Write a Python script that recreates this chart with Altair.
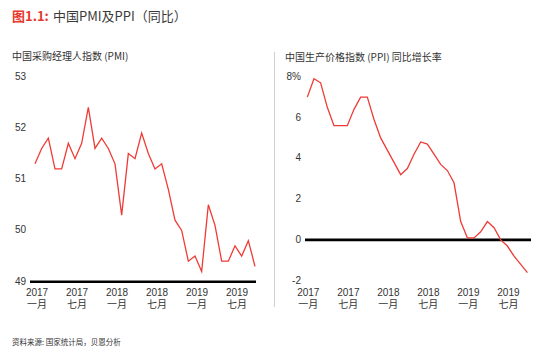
import altair as alt
import pandas as pd

# ---- data ----
months = list(range(34))  # Jan 2017 .. Oct 2019
pmi = [51.3, 51.6, 51.8, 51.2, 51.2, 51.7, 51.4, 51.7, 52.4, 51.6, 51.8, 51.6,
       51.3, 50.3, 51.5, 51.4, 51.9, 51.5, 51.2, 51.3, 50.8, 50.2, 50.0, 49.4,
       49.5, 49.2, 50.5, 50.1, 49.4, 49.4, 49.7, 49.5, 49.8, 49.3]
ppi = [7.0, 7.9, 7.7, 6.5, 5.6, 5.6, 5.6, 6.4, 7.0, 7.0, 5.9, 5.0,
       4.4, 3.8, 3.2, 3.5, 4.2, 4.8, 4.7, 4.2, 3.7, 3.4, 2.8, 0.9,
       0.1, 0.1, 0.4, 0.9, 0.6, 0.0, -0.3, -0.8, -1.2, -1.6]
tick_pos = [0, 6, 12, 18, 24, 30]
tick_year = ["2017", "2017", "2018", "2018", "2019", "2019"]
tick_month = ["一月", "七月", "一月", "七月", "一月", "七月"]
pmi_ticks = [49, 50, 51, 52, 53]
pmi_tick_labels = ["49", "50", "51", "52", "53"]
ppi_ticks = [-2, 0, 2, 4, 6, 8]
ppi_tick_labels = ["-2", "0", "2", "4", "6", "8%"]

FONT = "Liberation Sans, Noto Sans CJK SC, sans-serif"
CJK = "Noto Sans CJK SC, Liberation Sans, sans-serif"
TXT = "#333333"
RED = "#EF3B36"

df = pd.DataFrame({"m": months, "pmi": pmi, "ppi": ppi})
ticks_x = pd.DataFrame({"pos": tick_pos,
                        "lab": [y + "\n" + m for y, m in zip(tick_year, tick_month)]})
ticks_l = pd.DataFrame({"v": pmi_ticks, "lab": pmi_tick_labels})
ticks_r = pd.DataFrame({"v": ppi_ticks, "lab": ppi_tick_labels})

xL = alt.Scale(domain=[0, 33], range=[35, 255], nice=False, zero=False)
yL = alt.Scale(domain=[49, 53], range=[281.7, 76.7], nice=False, zero=False)
xR = alt.Scale(domain=[0, 33], range=[307.3, 527.4], nice=False, zero=False)
yR = alt.Scale(domain=[-2, 8], range=[280.7, 76.7], nice=False, zero=False)

one = pd.DataFrame({"k": [0]})

# ---- left panel ----
left_line = alt.Chart(df).mark_line(color=RED, strokeWidth=1.3).encode(
    x=alt.X("m:Q", scale=xL, axis=None),
    y=alt.Y("pmi:Q", scale=yL, axis=None),
)
left_base = alt.Chart(pd.DataFrame({"v": [49]})).mark_rule(color="black", strokeWidth=2.6).encode(
    y=alt.Y("v:Q", scale=yL, axis=None),
    x=alt.value(30), x2=alt.value(256),
)
left_ylab = alt.Chart(ticks_l).mark_text(align="right", baseline="middle", font=FONT,
                                         fontSize=10, color=TXT).encode(
    y=alt.Y("v:Q", scale=yL, axis=None),
    x=alt.value(26),
    text="lab:N",
)
left_xlab = alt.Chart(ticks_x).mark_text(align="center", baseline="alphabetic", font=FONT,
                                         fontSize=10, color=TXT, dx=2,
                                         lineBreak="\n", lineHeight=11.4).encode(
    x=alt.X("pos:Q", scale=xL, axis=None),
    y=alt.value(296.4),
    text="lab:N",
)

# ---- right panel ----
right_line = alt.Chart(df).mark_line(color=RED, strokeWidth=1.3).encode(
    x=alt.X("m:Q", scale=xR, axis=None),
    y=alt.Y("ppi:Q", scale=yR, axis=None),
)
right_zero = alt.Chart(pd.DataFrame({"v": [0]})).mark_rule(color="black", strokeWidth=2.6).encode(
    y=alt.Y("v:Q", scale=yR, axis=None),
    x=alt.value(305), x2=alt.value(531),
)
right_ylab = alt.Chart(ticks_r).mark_text(align="right", baseline="middle", font=FONT,
                                          fontSize=10, color=TXT).encode(
    y=alt.Y("v:Q", scale=yR, axis=None),
    x=alt.value(301),
    text="lab:N",
)
right_xlab = alt.Chart(ticks_x).mark_text(align="center", baseline="alphabetic", font=FONT,
                                          fontSize=10, color=TXT, dx=1,
                                          lineBreak="\n", lineHeight=11.4).encode(
    x=alt.X("pos:Q", scale=xR, axis=None),
    y=alt.value(296.4),
    text="lab:N",
)

# ---- separator & texts ----
sep = alt.Chart(one).mark_rule(color="#cfcfcf", strokeWidth=1).encode(
    x=alt.value(274.5), y=alt.value(52), y2=alt.value(307),
)
title_a = alt.Chart(one).mark_text(align="left", baseline="middle", font=CJK, fontSize=13,
                                   fontWeight="bold", color="#E8372C").encode(
    x=alt.value(12), y=alt.value(17), text=alt.value("图1.1:"))
title_b = alt.Chart(one).mark_text(align="left", baseline="middle", font=CJK, fontSize=13,
                                   color="#3a3a3a").encode(
    x=alt.value(53), y=alt.value(17), text=alt.value("中国PMI及PPI（同比）"))
sub_l = alt.Chart(one).mark_text(align="left", baseline="middle", font=CJK, fontSize=10,
                                 color=TXT).encode(
    x=alt.value(12), y=alt.value(57), text=alt.value("中国采购经理人指数 (PMI)"))
sub_r = alt.Chart(one).mark_text(align="left", baseline="middle", font=CJK, fontSize=10,
                                 color=TXT).encode(
    x=alt.value(285), y=alt.value(58), text=alt.value("中国生产价格指数 (PPI) 同比增长率"))
source = alt.Chart(one).mark_text(align="left", baseline="middle", font=CJK, fontSize=7.5,
                                  color=TXT).encode(
    x=alt.value(12), y=alt.value(343), text=alt.value("资料来源: 国家统计局，贝恩分析"))

chart = alt.layer(
    sep, left_base, left_line, left_ylab, left_xlab,
    right_zero, right_line, right_ylab, right_xlab,
    title_a, title_b, sub_l, sub_r, source,
).resolve_scale(x="independent", y="independent").properties(
    width=550, height=357, autosize="none", padding=0,
).configure_view(stroke=None)

chart.save("out.html", embed_options={"renderer": "svg", "actions": False})
